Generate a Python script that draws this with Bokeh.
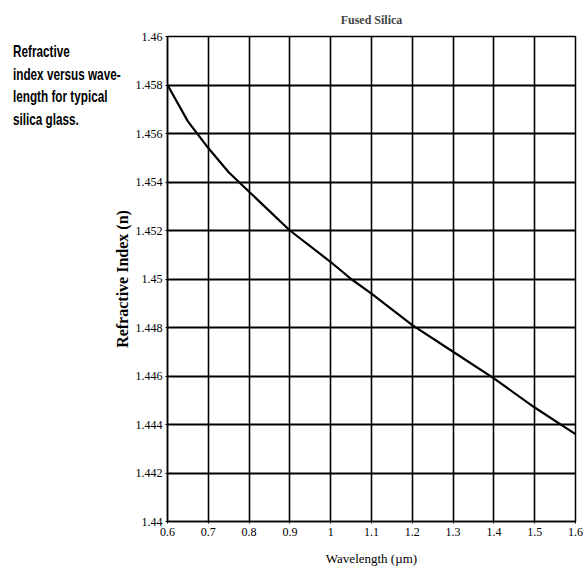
from bokeh.plotting import figure
from bokeh.models import Range1d, FixedTicker, Div
from bokeh.layouts import row
from bokeh.embed import file_html
from bokeh.resources import INLINE

# Data
wavelength = [0.6, 0.65, 0.7, 0.75, 0.8, 0.9, 1.0, 1.05, 1.1, 1.2, 1.3, 1.4, 1.5, 1.6]
refr_index = [1.4580, 1.4565, 1.4554, 1.4544, 1.4536, 1.4520, 1.4507, 1.4500,
              1.4494, 1.4481, 1.4470, 1.4459, 1.4447, 1.4436]

x_ticks = [0.6, 0.7, 0.8, 0.9, 1.0, 1.1, 1.2, 1.3, 1.4, 1.5, 1.6]
x_tick_labels = ["0.6", "0.7", "0.8", "0.9", "1", "1.1", "1.2", "1.3", "1.4", "1.5", "1.6"]
y_ticks = [1.44, 1.442, 1.444, 1.446, 1.448, 1.45, 1.452, 1.454, 1.456, 1.458, 1.46]
y_tick_labels = ["1.44", "1.442", "1.444", "1.446", "1.448", "1.45", "1.452", "1.454",
                 "1.456", "1.458", "1.46"]

caption_lines = ["Refractive", "index versus wave-", "length for typical", "silica glass."]
title_text = "Fused Silica"
x_label = "Wavelength (\u00b5m)"
y_label = "Refractive Index (n)"

SERIF = "Liberation Serif"
CAP_W = 108

p = figure(width=583 - CAP_W, height=568, output_backend="svg", toolbar_location=None,
           x_range=Range1d(x_ticks[0], x_ticks[-1]), y_range=Range1d(y_ticks[0], y_ticks[-1]),
           min_border_left=167 - CAP_W, min_border_right=8, min_border_top=36,
           min_border_bottom=47)

p.title.text = title_text
p.title.align = "center"
p.title.text_font = SERIF
p.title.text_font_size = "12px"
p.title.text_font_style = "bold"
p.title.standoff = 19

p.line(wavelength, refr_index, line_color="black", line_width=2.2)

p.xaxis.ticker = FixedTicker(ticks=x_ticks)
p.yaxis.ticker = FixedTicker(ticks=y_ticks)
p.xaxis.major_label_overrides = {t: l for t, l in zip(x_ticks, x_tick_labels)}
p.yaxis.major_label_overrides = {t: l for t, l in zip(y_ticks, y_tick_labels)}
p.xgrid.ticker = FixedTicker(ticks=x_ticks)
p.ygrid.ticker = FixedTicker(ticks=y_ticks)

p.xgrid.grid_line_color = "black"
p.xgrid.grid_line_width = 1.6
p.ygrid.grid_line_color = "black"
p.ygrid.grid_line_width = 2.0

for ax in (p.xaxis, p.yaxis):
    ax.axis_line_color = "black"
    ax.axis_line_width = 1.5
    ax.major_tick_line_color = "black"
    ax.major_tick_out = 2
    ax.major_tick_in = 0
    ax.minor_tick_line_color = None
    ax.major_label_text_font = SERIF
    ax.major_label_text_font_size = "12px"
    ax.major_label_text_color = "black"
    ax.axis_label_text_font = SERIF
    ax.axis_label_text_color = "black"

p.xaxis.axis_label = x_label
p.yaxis.axis_label = y_label
p.xaxis.axis_label_text_font_size = "13px"
p.xaxis.axis_label_text_font_style = "normal"
p.yaxis.axis_label_text_font_size = "16px"
p.yaxis.axis_label_text_font_style = "bold"
p.xaxis.major_label_standoff = 4
p.yaxis.major_label_standoff = 3
p.xaxis.axis_label_standoff = 12
p.yaxis.axis_label_standoff = 2

p.outline_line_color = "black"
p.outline_line_width = 1.5
p.background_fill_color = "white"
p.border_fill_color = None

caption_html = (
    '<div style="position:relative; margin-top:41px; margin-left:13px; white-space:nowrap; '
    "font-family:'Liberation Sans',Arial,sans-serif; "
    'font-size:17px; font-weight:bold; line-height:22.5px; color:black; '
    'transform:scaleX(0.69); transform-origin:0 0;">'
    + "<br>".join(caption_lines) + "</div>"
)
caption = Div(text=caption_html, width=CAP_W, height=568, margin=0,
              styles={"overflow": "visible", "z-index": "0"})

layout = row(caption, p, spacing=0, styles={"background-color": "white"})

open("out.html", "w").write(file_html(layout, INLINE))
